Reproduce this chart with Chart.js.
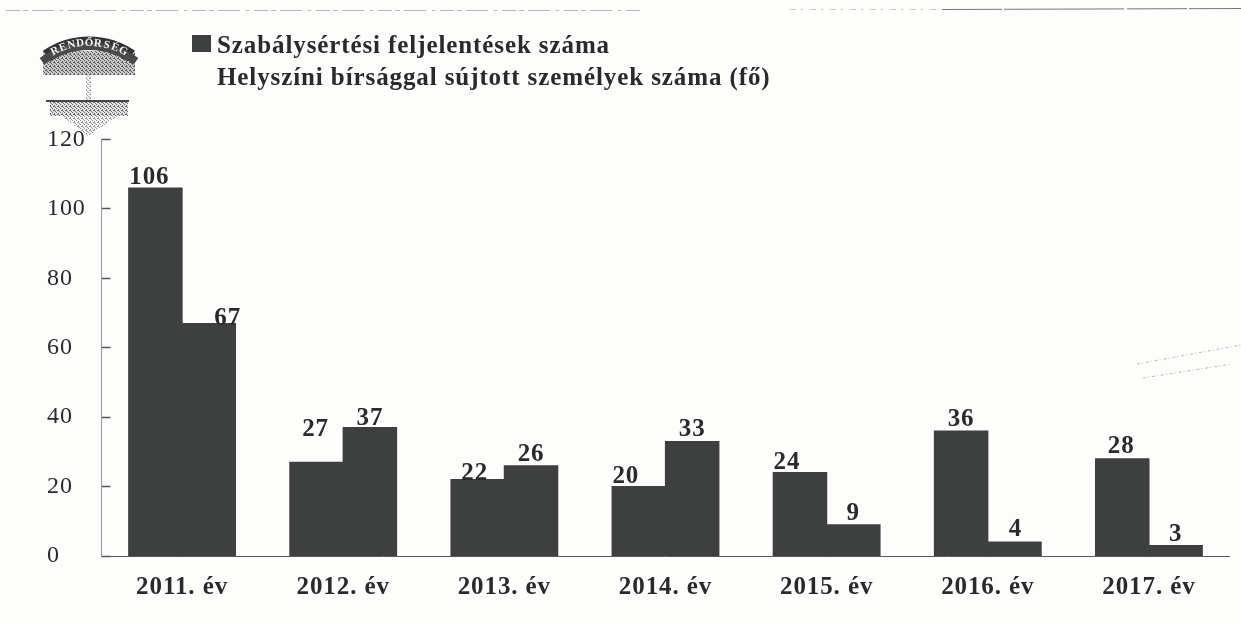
<!DOCTYPE html>
<html lang="hu">
<head>
<meta charset="utf-8">
<title>Szabálysértési feljelentések</title>
<script src="https://cdn.jsdelivr.net/npm/chart.js@4"></script>
<style>
html,body{margin:0;padding:0;background:#fdfdfc;overflow:hidden}
canvas{display:block}
</style>
</head>
<body>
<canvas id="c" width="1241" height="624"></canvas>
<script>
const categories = ["2011. év","2012. év","2013. év","2014. év","2015. év","2016. év","2017. év"];
const seriesNames = ["Szabálysértési feljelentések száma","Helyszíni bírsággal sújtott személyek száma (fő)"];
const reports = [106,27,22,20,24,36,28];
const fined = [67,37,26,33,9,4,3];
const yTicks = [0,20,40,60,80,100,120];
const logoText = "RENDŐRSÉG";

// value-label placement (px relative to the bar's top centre)
const labelShiftX = [[-6,-1,-3,-13,-13,0,-1],[19,0,0,0,0,1,0]];
const labelGap = [[4,26,0,4,4,5,6],[-1,3,5,5,5,6,5]];

const INK = "#2a2a2a", BAR = "#3e4040", SPACING = "0.9px";

function setSpacing(chart){ chart.ctx.letterSpacing = SPACING; }

// legend swatch: an image with transparent margins so that it sits where the original's does
function swatch(filled){
  const p = document.createElement("canvas"); p.width = 25; p.height = 23;
  if(filled){ const c = p.getContext("2d"); c.fillStyle = BAR; c.fillRect(6,0,19,17); }
  return p;
}
const swatches = [swatch(true), swatch(false)];

const spacingPlugin = {
  id:"spacing",
  beforeUpdate:setSpacing, beforeLayout:setSpacing, beforeDraw:setSpacing,
};

const legendPlacement = {
  id:"legendPlacement",
  beforeLayout(chart){
    const l = chart.legend;
    if(!l._fitWrapped){
      const fit = l.fit;
      l.fit = function(){ fit.call(this); this.height = 139.6; };
      l._fitWrapped = true;
    }
  },
  afterLayout(chart){
    const l = chart.legend;
    l.left = 185.5; l.right = 185.5 + 720; l.top = 27; l.bottom = 100;
  }
};

const valueLabels = {
  id:"valueLabels",
  afterDatasetsDraw(chart){
    const ctx = chart.ctx;
    ctx.save();
    ctx.letterSpacing = SPACING;
    ctx.font = 'bold 25px "Liberation Serif"';
    ctx.fillStyle = INK;
    ctx.textAlign = "center";
    ctx.textBaseline = "alphabetic";
    chart.data.datasets.forEach((ds,d)=>{
      chart.getDatasetMeta(d).data.forEach((el,i)=>{
        ctx.fillText(String(ds.data[i]), el.x + labelShiftX[d][i], el.y - labelGap[d][i]);
      });
    });
    ctx.restore();
  }
};

function stipple(ctx, dark, light){
  const p = document.createElement("canvas"); p.width = 4; p.height = 4;
  const c = p.getContext("2d");
  c.fillStyle = light; c.fillRect(0,0,4,4);
  c.fillStyle = dark; c.fillRect(0,0,1,1); c.fillRect(2,1,1,1); c.fillRect(1,2,2,1); c.fillRect(3,3,1,1);
  return ctx.createPattern(p,"repeat");
}

const scanDecor = {
  id:"scanDecor",
  afterDraw(chart){
    const ctx = chart.ctx;
    ctx.save();
    ctx.letterSpacing = "0px";
    // scanned page edges
    ctx.strokeStyle = "#b4b4b4"; ctx.lineWidth = 1;
    ctx.setLineDash([14,3,5,4,22,6,3,5]);
    ctx.beginPath(); ctx.moveTo(6,10.5); ctx.lineTo(640,10.5); ctx.stroke();
    ctx.strokeStyle = "#c8c8c8"; ctx.setLineDash([6,5,2,7]);
    ctx.beginPath(); ctx.moveTo(790,9.5); ctx.lineTo(940,9.5); ctx.stroke();
    ctx.strokeStyle = "#777"; ctx.setLineDash([60,2,120,3]);
    ctx.beginPath(); ctx.moveTo(942,9.5); ctx.lineTo(1241,8.5); ctx.stroke();
    // smudge at right
    ctx.strokeStyle = "#b8b8b8"; ctx.setLineDash([3,2,1,3]);
    ctx.beginPath(); ctx.moveTo(1137,364); ctx.lineTo(1241,345); ctx.stroke();
    ctx.beginPath(); ctx.moveTo(1143,378); ctx.lineTo(1232,364); ctx.stroke();
    ctx.setLineDash([]);
    // emblem
    ctx.fillStyle = stipple(ctx,"#5c5c5c","#c9c9c9");
    ctx.fillRect(43,51,92,24);
    ctx.fillStyle = stipple(ctx,"#aaaaaa","#efefef");
    ctx.fillRect(86,75,5,26);
    ctx.fillStyle = stipple(ctx,"#6a6a6a","#e2e2e2");
    ctx.fillRect(50,102,78,14);
    ctx.beginPath(); ctx.moveTo(62,116); ctx.lineTo(118,116); ctx.lineTo(88,136); ctx.closePath();
    ctx.fillStyle = stipple(ctx,"#9a9a9a","#f4f4f4"); ctx.fill();
    ctx.strokeStyle = "#444"; ctx.lineWidth = 2;
    ctx.beginPath(); ctx.moveTo(46,101); ctx.lineTo(129,101); ctx.stroke();
    // banner
    ctx.lineWidth = 13; ctx.strokeStyle = "#333";
    ctx.beginPath(); ctx.arc(89,118,75,-Math.PI*0.69,-Math.PI*0.31); ctx.stroke();
    ctx.lineWidth = 8; ctx.strokeStyle = "#4a4a4a";
    ctx.beginPath(); ctx.arc(89,126,80,-Math.PI*0.70,-Math.PI*0.30); ctx.stroke();
    ctx.font = 'bold 11px "Liberation Serif"';
    ctx.fillStyle = "#f4f4f4"; ctx.textAlign = "center"; ctx.textBaseline = "middle";
    const chars = [...logoText];
    chars.forEach((ch,i)=>{
      const a = -Math.PI/2 + (i-(chars.length-1)/2)*0.118;
      ctx.save();
      ctx.translate(89+75*Math.cos(a),118+75*Math.sin(a));
      ctx.rotate(a+Math.PI/2);
      ctx.fillText(ch,0,0);
      ctx.restore();
    });
    ctx.restore();
  }
};

new Chart(document.getElementById("c"),{
  type:"bar",
  data:{
    labels:categories,
    datasets:[
      {label:seriesNames[0],data:reports,backgroundColor:BAR,borderWidth:0,inflateAmount:0.6,categoryPercentage:0.662,barPercentage:1},
      {label:seriesNames[1],data:fined,backgroundColor:BAR,borderWidth:0,inflateAmount:0.6,categoryPercentage:0.662,barPercentage:1}
    ]
  },
  options:{
    responsive:false,
    animation:false,
    events:[],
    layout:{padding:{left:47,right:11.5,top:0,bottom:0}},
    scales:{
      x:{
        offset:true,
        afterFit(s){ s.height = 68; },
        grid:{display:false},
        border:{display:true,color:"#5a5a5a",width:1,dash:[30,2,14,3]},
        ticks:{color:INK,font:{family:"Liberation Serif",weight:"bold",size:25},padding:9,maxRotation:0,autoSkip:false}
      },
      y:{
        min:0,max:120,
        afterBuildTicks(s){ s.ticks = yTicks.map(v=>({value:v})); },
        afterFit(s){ s.width = 54.5; },
        grid:{drawOnChartArea:false,drawTicks:true,tickLength:-9,tickColor:"#555",tickWidth:1.5},
        border:{display:true,color:"#9a9a9a",width:1},
        ticks:{color:INK,crossAlign:"far",padding:0,font:{family:"Liberation Serif",size:24}}
      }
    },
    plugins:{
      tooltip:{enabled:false},
      title:{display:false},
      legend:{
        display:true,position:"top",align:"start",maxWidth:720,
        labels:{
          color:INK,
          font:{family:"Liberation Serif",weight:"bold",size:25},
          usePointStyle:true,pointStyleWidth:12,boxHeight:12,padding:7,
          generateLabels(chart){
            return chart.data.datasets.map((ds,i)=>({
              text:ds.label,datasetIndex:i,
              pointStyle:swatches[i],
              fillStyle:BAR,strokeStyle:BAR,lineWidth:0,
              fontColor:INK,hidden:false
            }));
          }
        }
      }
    }
  },
  plugins:[spacingPlugin,legendPlacement,valueLabels,scanDecor]
});
</script>
</body>
</html>
